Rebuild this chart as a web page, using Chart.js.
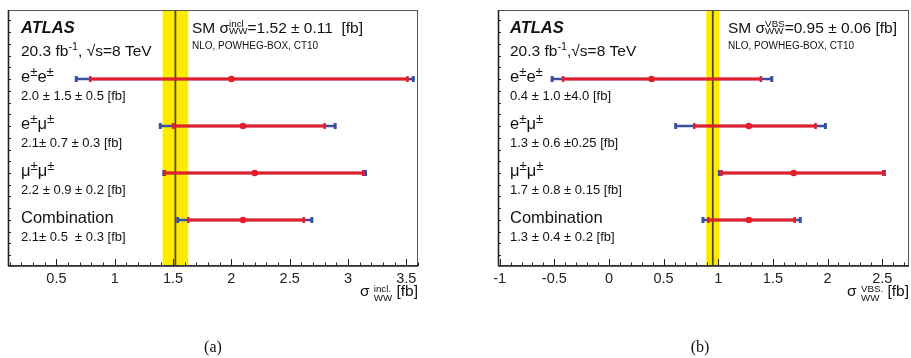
<!DOCTYPE html>
<html>
<head>
<meta charset="utf-8">
<script src="https://cdn.jsdelivr.net/npm/chart.js@4.4.1/dist/chart.umd.min.js"></script>
<style>
  html, body { margin: 0; padding: 0; background: #fff; overflow: hidden; }
  #wrap { position: relative; width: 911px; height: 358px; }
  canvas { position: absolute; top: 0; }
</style>
</head>
<body>
<div id="wrap">
  <canvas id="chartA" width="455" height="358" style="left:0"></canvas>
  <canvas id="chartB" width="456" height="358" style="left:455px"></canvas>
</div>
<script>
// canales, de arriba hacia abajo
const channels = ['e±e±', 'e±μ±', 'μ±μ±', 'Combination'];
const rowY = [4, 3, 2, 1];

// (a) seccion eficaz inclusiva
const inclCentral = [2.0, 2.1, 2.2, 2.1];
const inclStatLo = [0.79, 1.50, 1.43, 1.63];
const inclStatHi = [3.51, 2.80, 3.13, 2.62];
const inclTotLo = [0.67, 1.39, 1.42, 1.54];
const inclTotHi = [3.56, 2.89, 3.15, 2.69];
const inclLabels = ['2.0 ± 1.5 ± 0.5 [fb]', '2.1± 0.7 ± 0.3 [fb]', '2.2 ± 0.9 ± 0.2 [fb]', '2.1± 0.5  ± 0.3 [fb]'];
const inclSM = [1.52, 0.11];
const inclRange = [0.085, 3.6];

// (b) VBS
const vbsCentral = [0.39, 1.28, 1.69, 1.28];
const vbsStatLo = [-0.42, 0.78, 1.03, 0.91];
const vbsStatHi = [1.39, 1.89, 2.51, 1.70];
const vbsTotLo = [-0.52, 0.61, 1.01, 0.86];
const vbsTotHi = [1.49, 1.98, 2.52, 1.75];
const vbsLabels = ['0.4 ± 1.0 ±4.0 [fb]', '1.3 ± 0.6 ±0.25 [fb]', '1.7 ± 0.8 ± 0.15 [fb]', '1.3 ± 0.4 ± 0.2 [fb]'];
const vbsSM = [0.95, 0.06];
const vbsRange = [-1.015, 2.745];

const RED = '#e31e2a';
const BLUE = '#3a4f9f';
const YELLOW = '#ffea00';

function font(size, style) {
    return (style || '') + ' ' + size + 'px "Liberation Sans", Arial, sans-serif';
}

// texto con superindices/subindices: partes {t, sup, stack:[sup, sub]}
function richWidth(ctx, parts, size) {
    let w = 0;
    parts.forEach(p => {
        if (p.stack) {
            ctx.font = font(size * 0.63);
            w += Math.max(ctx.measureText(p.stack[0]).width, ctx.measureText(p.stack[1]).width);
        } else {
            ctx.font = font(p.sup ? size * 0.7 : size, p.style);
            w += ctx.measureText(p.t).width;
        }
    });
    return w;
}

function rich(ctx, x, y, parts, size, supDy, subDy, supScale) {
    ctx.textAlign = 'left';
    ctx.textBaseline = 'alphabetic';
    ctx.fillStyle = '#111';
    parts.forEach(p => {
        if (p.stack) {
            ctx.font = font(size * 0.63);
            ctx.fillText(p.stack[0], x, y + supDy);
            ctx.fillText(p.stack[1], x, y + subDy);
            x += Math.max(ctx.measureText(p.stack[0]).width, ctx.measureText(p.stack[1]).width);
        } else if (p.sup) {
            ctx.font = font(size * (supScale || 0.7));
            ctx.fillText(p.t, x, y - size * 0.38);
            x += ctx.measureText(p.t).width;
        } else {
            ctx.font = font(size, p.style);
            ctx.fillText(p.t, x, y);
            x += ctx.measureText(p.t).width;
        }
    });
}

function channelParts(name) {
    if (name === 'Combination') return [{ t: name }];
    return name.split('').map(c => c === '±' ? { t: '±', sup: true } : { t: c });
}

function makePanel(id, cfg) {
    const datasets = [];
    rowY.forEach((y, i) => {
        datasets.push({
            data: [{ x: cfg.totLo[i], y: y }, { x: cfg.totHi[i], y: y }],
            showLine: true, borderColor: BLUE, borderWidth: 2.5,
            pointStyle: 'line', rotation: 90, pointRadius: 3,
            pointBorderColor: BLUE, pointBorderWidth: 3, order: 3
        });
        datasets.push({
            data: [{ x: cfg.statLo[i], y: y }, { x: cfg.statHi[i], y: y }],
            showLine: true, borderColor: RED, borderWidth: 3,
            pointStyle: 'line', rotation: 90, pointRadius: 3,
            pointBorderColor: RED, pointBorderWidth: 2.5, order: 2
        });
        datasets.push({
            data: [{ x: cfg.central[i], y: y }],
            pointStyle: 'circle', pointRadius: 3.3,
            pointBackgroundColor: RED, pointBorderColor: RED, pointBorderWidth: 0, order: 1
        });
    });

    const decor = {
        id: 'decor',
        beforeDatasetsDraw(chart) {
            const ctx = chart.ctx, a = chart.chartArea, xs = chart.scales.x;
            const lo = xs.getPixelForValue(cfg.sm[0] - cfg.sm[1]);
            const hi = xs.getPixelForValue(cfg.sm[0] + cfg.sm[1]);
            ctx.save();
            ctx.fillStyle = YELLOW;
            ctx.fillRect(lo, a.top, hi - lo, a.bottom - a.top);
            const c = xs.getPixelForValue(cfg.sm[0]);
            ctx.strokeStyle = '#4d4a2c';
            ctx.lineWidth = 1.8;
            ctx.beginPath();
            ctx.moveTo(c, a.top); ctx.lineTo(c, a.bottom);
            ctx.stroke();
            ctx.restore();
        },
        afterDraw(chart) {
            const ctx = chart.ctx, a = chart.chartArea, xs = chart.scales.x, ys = chart.scales.y;
            ctx.save();
            // marco
            ctx.strokeStyle = '#555';
            ctx.lineWidth = 1;
            ctx.strokeRect(a.left + 0.5, a.top + 0.5, a.right - a.left - 1, a.bottom - a.top - 1);
            ctx.strokeStyle = '#222';
            ctx.lineWidth = 1.6;
            ctx.beginPath();
            ctx.moveTo(a.left, a.bottom); ctx.lineTo(a.right, a.bottom);
            ctx.moveTo(a.left + 0.5, a.top); ctx.lineTo(a.left + 0.5, a.bottom);
            ctx.stroke();
            // marcas del eje x, hacia dentro
            ctx.lineWidth = 1;
            ctx.beginPath();
            for (let k = Math.ceil(xs.min * 10 - 1e-6); k <= Math.floor(xs.max * 10 + 1e-6); k++) {
                const px = Math.round(xs.getPixelForValue(k / 10)) + 0.5;
                const len = (k % 5 === 0) ? 7 : 3.5;
                ctx.moveTo(px, a.bottom); ctx.lineTo(px, a.bottom - len);
            }
            // marcas del eje y
            for (let v = 0.25; v < ys.max; v += 0.25) {
                const py = Math.round(ys.getPixelForValue(v)) + 0.5;
                ctx.moveTo(a.left, py); ctx.lineTo(a.left + 3, py);
            }
            ctx.stroke();

            const tx = a.left + cfg.textDx;
            ctx.fillStyle = '#111';
            ctx.textAlign = 'left';
            ctx.font = font(16.5, 'italic bold');
            ctx.fillText('ATLAS', tx, a.top + 23);
            rich(ctx, tx, a.top + 46, [{ t: '20.3 fb' }, { t: '-1', sup: true }, { t: cfg.lumiSep + '√s=8 TeV' }], 15.5);

            rowY.forEach((y, i) => {
                const py = ys.getPixelForValue(y);
                rich(ctx, tx, py + 3, channelParts(channels[i]), 16.5, 0, 0, 0.8);
                ctx.font = font(13);
                ctx.fillStyle = '#111';
                ctx.fillText(cfg.labels[i], tx, py + 21);
            });

            // etiqueta del modelo estandar
            const sx = a.left + cfg.smDx;
            rich(ctx, sx, a.top + 23, [{ t: 'SM σ' }, { stack: [cfg.smSup, 'WW'] }, { t: cfg.smText }], 15.5, -6.5, 1);
            ctx.font = font(10);
            ctx.fillStyle = '#111';
            ctx.fillText('NLO, POWHEG-BOX, CT10', sx, a.top + 39);

            // titulo del eje
            const tparts = [{ t: 'σ ' }, { stack: [cfg.axSup, 'WW'] }, { t: ' [fb]' }];
            const w = richWidth(ctx, tparts, 15.5);
            rich(ctx, a.right - w, a.bottom + 30, tparts, 15.5, -4.5, 5);

            // (a) / (b)
            ctx.font = '16px "Liberation Serif", "Times New Roman", serif';
            ctx.textAlign = 'center';
            ctx.textBaseline = 'middle';
            ctx.fillStyle = '#111';
            ctx.fillText(cfg.caption, cfg.captionX, 348);
            ctx.restore();
        }
    };

    return new Chart(document.getElementById(id), {
        type: 'scatter',
        data: { datasets: datasets },
        options: {
            responsive: false,
            animation: false,
            events: [],
            layout: { padding: cfg.padding, autoPadding: false },
            plugins: { legend: { display: false }, tooltip: { enabled: false } },
            scales: {
                x: {
                    type: 'linear', min: cfg.range[0], max: cfg.range[1],
                    grid: { display: false, drawTicks: false }, border: { display: false },
                    ticks: {
                        stepSize: 0.5, includeBounds: false, padding: 4,
                        color: '#222', font: { family: '"Liberation Sans", Arial, sans-serif', size: 14.5 },
                        maxRotation: 0, autoSkip: false,
                        callback: v => String(+v.toFixed(2))
                    },
                    afterFit: s => { s.height = 92; s.paddingLeft = 0; s.paddingRight = 0; }
                },
                y: { type: 'linear', display: false, min: 0.02, max: 5.47 }
            }
        },
        plugins: [decor]
    });
}

makePanel('chartA', {
    central: inclCentral, statLo: inclStatLo, statHi: inclStatHi, totLo: inclTotLo, totHi: inclTotHi,
    labels: inclLabels, sm: inclSM, range: inclRange,
    padding: { left: 8, top: 10, right: 37, bottom: 0 },
    textDx: 13, lumiSep: ', ', smDx: 184, smSup: 'incl', smText: '=1.52 ± 0.11  [fb]',
    axSup: 'incl.', caption: '(a)', captionX: 213
});

makePanel('chartB', {
    central: vbsCentral, statLo: vbsStatLo, statHi: vbsStatHi, totLo: vbsTotLo, totHi: vbsTotHi,
    labels: vbsLabels, sm: vbsSM, range: vbsRange,
    padding: { left: 43, top: 10, right: 2, bottom: 0 },
    textDx: 12, lumiSep: ',', smDx: 230, smSup: 'VBS', smText: '=0.95 ± 0.06 [fb]',
    axSup: 'VBS.', caption: '(b)', captionX: 245
});
</script>
</body>
</html>
